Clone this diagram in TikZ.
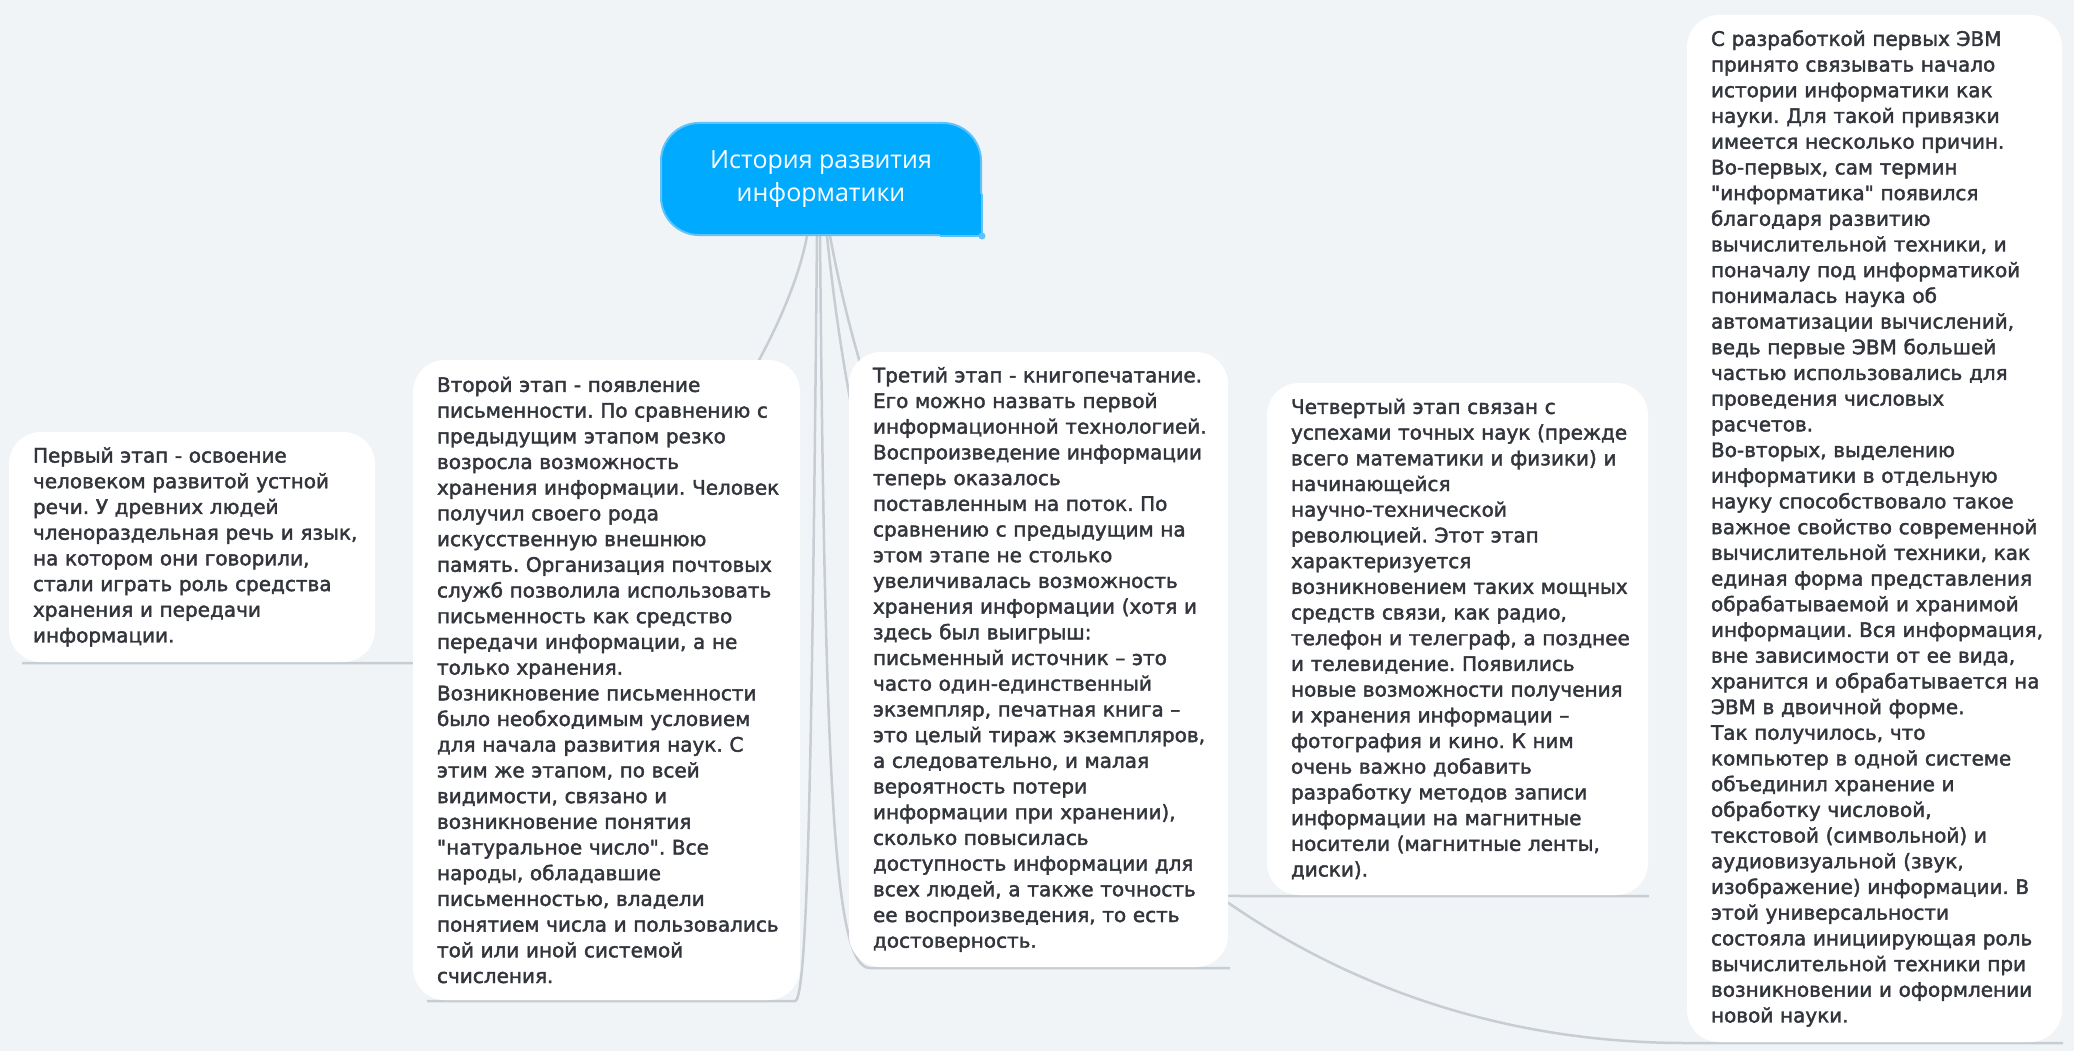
\documentclass[tikz,border=0pt]{standalone}
\usepackage{fontspec}
\usepackage{tikz}
\usetikzlibrary{shapes,arrows,calc}
\newfontfamily\stagefont[FakeBold=2]{DejaVu Sans}
\newfontfamily\rootfont{Open Sans}
\definecolor{paper}{RGB}{240,244,247}
\definecolor{rootblue}{RGB}{0,170,255}
\definecolor{rootedge}{RGB}{95,195,250}
\definecolor{linkgray}{RGB}{200,205,211}
\definecolor{textgray}{RGB}{50,54,60}
\pgfdeclarelayer{paperlayer}
\pgfdeclarelayer{links}
\pgfsetlayers{paperlayer,links,main}
\tikzstyle{root} = [fill=rootblue, draw=rootedge, line width=2pt, rounded corners=38pt, minimum width=320pt, minimum height=112pt, text=white, align=center, font=\rootfont\fontsize{25}{33}\selectfont]
\tikzstyle{stage} = [fill=white, rounded corners=32pt, anchor=north west, align=left, inner xsep=0pt, inner ysep=0pt, outer sep=0pt, text=textgray, font=\stagefont\fontsize{20}{25.7}\selectfont, execute at begin node={\leftskip=24pt\frenchspacing}]
\tikzstyle{link} = [draw=linkgray, line width=2.5pt]

\begin{document}
\begin{tikzpicture}[x=1pt, y=1pt]
        \useasboundingbox (0,0) rectangle (2074,-1051);
        \begin{pgfonlayer}{paperlayer}
            \fill[paper] (0,0) rectangle (2074,-1051);
        \end{pgfonlayer}
        \node[root] (history) at (821,-179) {История развития\\информатики};
        \fill[rootblue] (history.south east) rectangle ++(-42,42);
        \draw[rootedge, line width=2pt] ([xshift=-42pt]history.south east) -- (history.south east) -- ([yshift=42pt]history.south east);
        \fill[rootedge] (history.south east) circle (3.5pt);
        \node[stage, text width=366pt, minimum height=230pt] (first) at (9,-432) {Первый этап - освоение\\человеком развитой устной\\речи. У древних людей\\членораздельная речь и язык,\\на котором они говорили,\\стали играть роль средства\\хранения и передачи\\информации.};
        \node[stage, text width=387pt, minimum height=640pt] (second) at (413,-360) {Второй этап - появление\\письменности. По сравнению с\\предыдущим этапом резко\\возросла возможность\\хранения информации. Человек\\получил своего рода\\искусственную внешнюю\\память. Организация почтовых\\служб позволила использовать\\письменность как средство\\передачи информации, а не\\только хранения.\\Возникновение письменности\\было необходимым условием\\для начала развития наук. С\\этим же этапом, по всей\\видимости, связано и\\возникновение понятия\\"натуральное число". Все\\народы, обладавшие\\письменностью, владели\\понятием числа и пользовались\\той или иной системой\\счисления.};
        \node[stage, text width=379pt, minimum height=615pt] (third) at (849,-352) {Третий этап - книгопечатание.\\Его можно назвать первой\\информационной технологией.\\Воспроизведение информации\\теперь оказалось\\поставленным на поток. По\\сравнению с предыдущим на\\этом этапе не столько\\увеличивалась возможность\\хранения информации (хотя и\\здесь был выигрыш:\\письменный источник – это\\часто один-единственный\\экземпляр, печатная книга –\\это целый тираж экземпляров,\\а следовательно, и малая\\вероятность потери\\информации при хранении),\\сколько повысилась\\доступность информации для\\всех людей, а также точность\\ее воспроизведения, то есть\\достоверность.};
        \node[stage, text width=381pt, minimum height=512pt] (fourth) at (1267,-383) {Четвертый этап связан с\\успехами точных наук (прежде\\всего математики и физики) и\\начинающейся\\научно-технической\\революцией. Этот этап\\характеризуется\\возникновением таких мощных\\средств связи, как радио,\\телефон и телеграф, а позднее\\и телевидение. Появились\\новые возможности получения\\и хранения информации –\\фотография и кино. К ним\\очень важно добавить\\разработку методов записи\\информации на магнитные\\носители (магнитные ленты,\\диски).};
        \node[stage, text width=375pt, minimum height=1027pt] (computer) at (1687,-15) {С разработкой первых ЭВМ\\принято связывать начало\\истории информатики как\\науки. Для такой привязки\\имеется несколько причин.\\Во-первых, сам термин\\"информатика" появился\\благодаря развитию\\вычислительной техники, и\\поначалу под информатикой\\понималась наука об\\автоматизации вычислений,\\ведь первые ЭВМ большей\\частью использовались для\\проведения числовых\\расчетов.\\Во-вторых, выделению\\информатики в отдельную\\науку способствовало такое\\важное свойство современной\\вычислительной техники, как\\единая форма представления\\обрабатываемой и хранимой\\информации. Вся информация,\\вне зависимости от ее вида,\\хранится и обрабатывается на\\ЭВМ в двоичной форме.\\Так получилось, что\\компьютер в одной системе\\объединил хранение и\\обработку числовой,\\текстовой (символьной) и\\аудиовизуальной (звук,\\изображение) информации. В\\этой универсальности\\состояла инициирующая роль\\вычислительной техники при\\возникновении и оформлении\\новой науки.};
        \begin{pgfonlayer}{links}
            \path[link] ([xshift=-14pt]history.south) .. controls +(-28,-150) and +(150,0) .. ([xshift=45pt,yshift=-1pt]first.south east) -- ([xshift=13pt,yshift=-1pt]first.south west);
            \path[link] ([xshift=-4pt]history.south) .. controls +(-5,-515) and +(13,0) .. ([xshift=-5pt,yshift=-1pt]second.south east) -- ([xshift=14pt,yshift=-1pt]second.south west);
            \path[link] ([xshift=-1pt]history.south) .. controls +(5,-565) and +(-35,0) .. ([xshift=21pt,yshift=-1pt]third.south west) -- ([xshift=2pt,yshift=-1pt]third.south east);
            \path[link] ([xshift=6pt]history.south) .. controls +(43,-415) and +(-240,0) .. ([xshift=-27pt,yshift=-1pt]fourth.south west) -- ([xshift=1pt,yshift=-1pt]fourth.south east);
            \path[link] ([xshift=9pt]history.south) .. controls +(90,-485) and +(-436,0) .. ([xshift=-1pt,yshift=-1pt]computer.south west) -- ([xshift=1pt,yshift=-1pt]computer.south east);
        \end{pgfonlayer}
    \end{tikzpicture}
\end{document}
